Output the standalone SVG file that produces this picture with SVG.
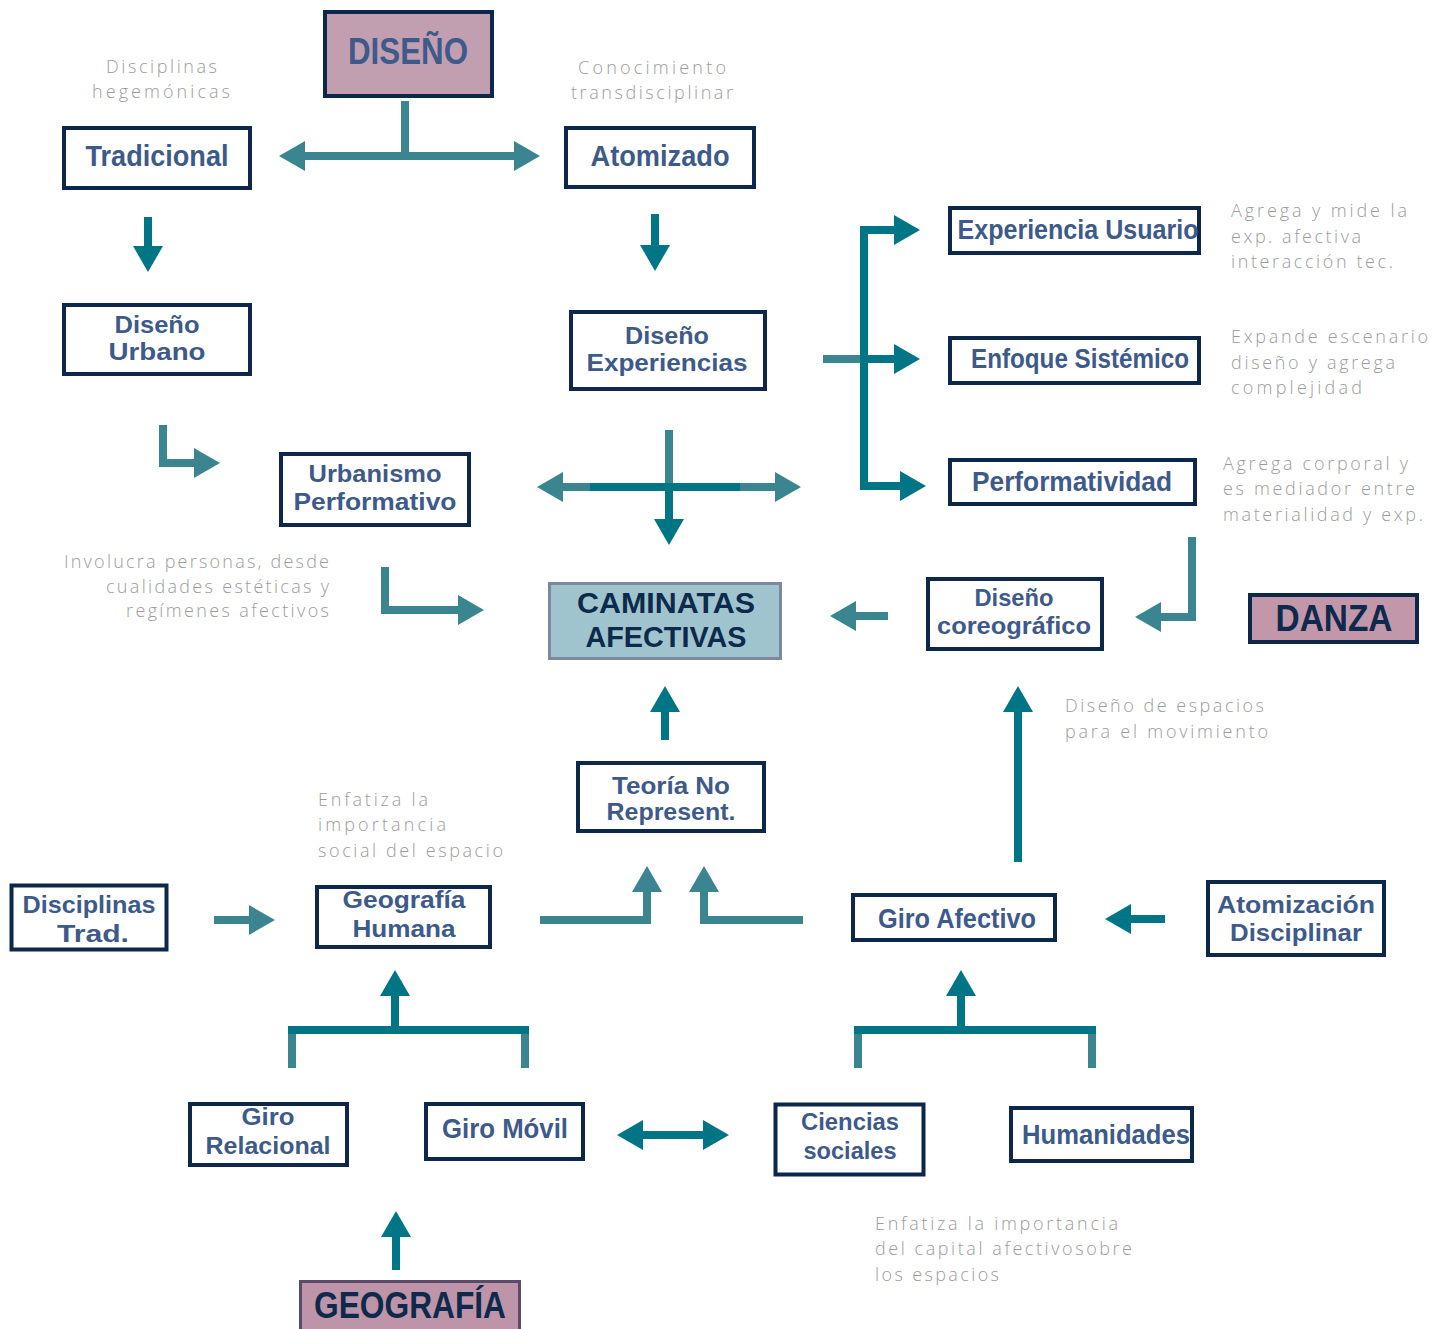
<svg xmlns="http://www.w3.org/2000/svg" width="1447" height="1329" viewBox="0 0 1447 1329">
<style>
.bx{fill:#fff;stroke:#0c2749;stroke-width:4}
.lb{font-family:"Liberation Sans",Arial,sans-serif;font-weight:bold;fill:#3d5a8a;font-size:24px;text-anchor:middle}
.tt{font-family:"Liberation Sans",Arial,sans-serif;font-weight:bold;fill:#0d2a4c;font-size:36px;text-anchor:middle}
.an{font-family:"Open Sans","Noto Sans",sans-serif;font-weight:300;fill:#9c9c9c;font-size:18px}
.d{fill:none;stroke:#007585;stroke-width:8;stroke-linejoin:miter}
.l{fill:none;stroke:#3a8590;stroke-width:8;stroke-linejoin:miter}
.md{marker-end:url(#hd)}
.ml{marker-end:url(#hl)}
</style>
<defs>
<marker id="hd" markerUnits="userSpaceOnUse" markerWidth="26" markerHeight="30" viewBox="0 0 26 30" refX="2" refY="15" orient="auto-start-reverse"><path d="M0,0 L26,15 L0,30 z" fill="#007585"/></marker>
<marker id="hl" markerUnits="userSpaceOnUse" markerWidth="26" markerHeight="30" viewBox="0 0 26 30" refX="2" refY="15" orient="auto-start-reverse"><path d="M0,0 L26,15 L0,30 z" fill="#3a8590"/></marker>
</defs>
<rect width="1447" height="1329" fill="#fff"/>

<g id="connectors">
<path class="l" d="M405,101 V160"/>
<path class="l ml" d="M409,156 H303"/>
<path class="l ml" d="M401,156 H516"/>
<path class="d md" d="M148,217 V248"/>
<path class="d md" d="M655,214 V247"/>
<path class="l ml" d="M163,425 V463 H196"/>
<path class="l" d="M669,430 V490"/>
<path class="d md" d="M669,484 V521"/>
<path class="l ml" d="M600,487 H561"/>
<path class="d" d="M590,487 H750"/>
<path class="l ml" d="M740,487 H777"/>
<path class="l" d="M823,359 H864"/>
<path class="d md" d="M896,230 H864 V486 H902"/>
<path class="d md" d="M860,230 H896"/>
<path class="d md" d="M860,359 H896"/>
<path class="l ml" d="M385,567 V610 H460"/>
<path class="l ml" d="M888,616 H854"/>
<path class="l ml" d="M1192,537 V617 H1159"/>
<path class="d md" d="M665,740 V710"/>
<path class="d md" d="M1018,862 V710"/>
<path class="l ml" d="M214,920 H251"/>
<path class="l ml" d="M540,920 H647 V890"/>
<path class="l ml" d="M803,920 H704 V890"/>
<path class="d md" d="M1165,919 H1129"/>
<path class="l" d="M292,1026 V1068 M525,1026 V1068 M858,1026 V1068 M1092,1026 V1068"/>
<path class="d" d="M288,1030 H529 M854,1030 H1096"/>
<path class="d md" d="M395,1030 V994"/>
<path class="d md" d="M961,1030 V994"/>
<path class="d md" d="M641,1135 H705" marker-start="url(#hd)"/>
<path class="d md" d="M396,1270 V1235"/>
</g>

<g id="n-diseno"><rect x="325" y="12" width="167" height="84" fill="#c29fb0" stroke="#0c2749" stroke-width="4"/><text class="lb" x="408" y="64" style="font-size:36px" textLength="120" lengthAdjust="spacingAndGlyphs">DISEÑO</text></g>
<g id="n-tradicional"><rect class="bx" x="64" y="128" width="186" height="60"/><text class="lb" x="157" y="166" style="font-size:29px" textLength="143" lengthAdjust="spacingAndGlyphs">Tradicional</text></g>
<g id="n-atomizado"><rect class="bx" x="566" y="128" width="188" height="59"/><text class="lb" x="660" y="166" style="font-size:29px" textLength="139" lengthAdjust="spacingAndGlyphs">Atomizado</text></g>
<g id="n-disenourbano"><rect class="bx" x="64" y="305" width="186" height="69"/><text class="lb" x="157" y="333" textLength="85" lengthAdjust="spacingAndGlyphs">Diseño</text><text class="lb" x="157" y="360" textLength="97" lengthAdjust="spacingAndGlyphs">Urbano</text></g>
<g id="n-disenoexp"><rect class="bx" x="571" y="312" width="194" height="77"/><text class="lb" x="667" y="344" textLength="84" lengthAdjust="spacingAndGlyphs">Diseño</text><text class="lb" x="667" y="371" textLength="161" lengthAdjust="spacingAndGlyphs">Experiencias</text></g>
<g id="n-urbanismo"><rect class="bx" x="281" y="454" width="188" height="71"/><text class="lb" x="375" y="482" textLength="133" lengthAdjust="spacingAndGlyphs">Urbanismo</text><text class="lb" x="375" y="510" textLength="163" lengthAdjust="spacingAndGlyphs">Performativo</text></g>
<g id="n-caminatas"><rect x="549.5" y="583.5" width="231" height="75" fill="#a0c4cd" stroke="#7b88a0" stroke-width="3"/><text class="tt" x="666" y="613" style="font-size:29px" textLength="178" lengthAdjust="spacingAndGlyphs">CAMINATAS</text><text class="tt" x="666" y="647" style="font-size:29px" textLength="161" lengthAdjust="spacingAndGlyphs">AFECTIVAS</text></g>
<g id="n-coreo"><rect class="bx" x="928" y="579" width="174" height="70"/><text class="lb" x="1014" y="606" textLength="79" lengthAdjust="spacingAndGlyphs">Diseño</text><text class="lb" x="1014" y="634" textLength="154" lengthAdjust="spacingAndGlyphs">coreográfico</text></g>
<g id="n-danza"><rect x="1250" y="595" width="167" height="47" fill="#c297aa" stroke="#0c2749" stroke-width="4"/><text class="tt" x="1334" y="631" textLength="117" lengthAdjust="spacingAndGlyphs">DANZA</text></g>
<g id="n-expusuario"><rect class="bx" x="950" y="208" width="249" height="45"/><text class="lb" x="1078" y="239" style="font-size:28px" textLength="241" lengthAdjust="spacingAndGlyphs">Experiencia Usuario</text></g>
<g id="n-enfoque"><rect class="bx" x="950" y="338" width="249" height="45"/><text class="lb" x="1080" y="368" style="font-size:28px" textLength="218" lengthAdjust="spacingAndGlyphs">Enfoque Sistémico</text></g>
<g id="n-performatividad"><rect class="bx" x="950" y="460" width="245" height="44"/><text class="lb" x="1072" y="491" style="font-size:28px" textLength="200" lengthAdjust="spacingAndGlyphs">Performatividad</text></g>
<g id="n-teoria"><rect class="bx" x="578" y="763" width="186" height="68"/><text class="lb" x="671" y="794" textLength="118" lengthAdjust="spacingAndGlyphs">Teoría No</text><text class="lb" x="671" y="820" textLength="129" lengthAdjust="spacingAndGlyphs">Represent.</text></g>
<g id="n-disctrad"><rect class="bx" x="11.5" y="885.5" width="155" height="64" stroke-width="5"/><text class="lb" x="89" y="913" textLength="133" lengthAdjust="spacingAndGlyphs">Disciplinas</text><text class="lb" x="93" y="942" textLength="72" lengthAdjust="spacingAndGlyphs">Trad.</text></g>
<g id="n-geohumana"><rect class="bx" x="317" y="887" width="173" height="60"/><text class="lb" x="404" y="908" textLength="123" lengthAdjust="spacingAndGlyphs">Geografía</text><text class="lb" x="404" y="937" textLength="103" lengthAdjust="spacingAndGlyphs">Humana</text></g>
<g id="n-giroafectivo"><rect class="bx" x="853" y="895" width="202" height="45"/><text class="lb" x="957" y="928" style="font-size:27px" textLength="158" lengthAdjust="spacingAndGlyphs">Giro Afectivo</text></g>
<g id="n-atomizacion"><rect class="bx" x="1208" y="882" width="176" height="73" stroke-width="6"/><text class="lb" x="1296" y="913" textLength="158" lengthAdjust="spacingAndGlyphs">Atomización</text><text class="lb" x="1296" y="941" textLength="132" lengthAdjust="spacingAndGlyphs">Disciplinar</text></g>
<g id="n-girorelacional"><rect class="bx" x="190" y="1104" width="157" height="61"/><text class="lb" x="268" y="1125" textLength="53" lengthAdjust="spacingAndGlyphs">Giro</text><text class="lb" x="268" y="1154" textLength="125" lengthAdjust="spacingAndGlyphs">Relacional</text></g>
<g id="n-giromovil"><rect class="bx" x="426" y="1104" width="157" height="55"/><text class="lb" x="505" y="1138" style="font-size:27px" textLength="126" lengthAdjust="spacingAndGlyphs">Giro Móvil</text></g>
<g id="n-ciencias"><rect class="bx" x="775.5" y="1104.5" width="148" height="70" stroke-width="5"/><text class="lb" x="850" y="1130" textLength="98" lengthAdjust="spacingAndGlyphs">Ciencias</text><text class="lb" x="850" y="1159" textLength="93" lengthAdjust="spacingAndGlyphs">sociales</text></g>
<g id="n-humanidades"><rect class="bx" x="1011" y="1108" width="181" height="53"/><text class="lb" x="1106" y="1144" style="font-size:27px" textLength="168" lengthAdjust="spacingAndGlyphs">Humanidades</text></g>
<g id="n-geografia"><rect x="300.5" y="1281.5" width="219" height="50" fill="#be94a8" stroke="#5c4a6b" stroke-width="3"/><text class="tt" x="410" y="1318" textLength="192" lengthAdjust="spacingAndGlyphs">GEOGRAFÍA</text></g>

<g id="annotations">
<text class="an" x="106" y="73" textLength="111" lengthAdjust="spacing">Disciplinas</text>
<text class="an" x="92" y="98" textLength="138" lengthAdjust="spacing">hegemónicas</text>
<text class="an" x="578" y="74" textLength="148" lengthAdjust="spacing">Conocimiento</text>
<text class="an" x="571" y="99" textLength="162" lengthAdjust="spacing">transdisciplinar</text>
<text class="an" x="1231" y="217" textLength="176" lengthAdjust="spacing">Agrega y mide la</text>
<text class="an" x="1231" y="243" textLength="130" lengthAdjust="spacing">exp. afectiva</text>
<text class="an" x="1231" y="268" textLength="162" lengthAdjust="spacing">interacción tec.</text>
<text class="an" x="1231" y="343" textLength="197" lengthAdjust="spacing">Expande escenario</text>
<text class="an" x="1231" y="369" textLength="164" lengthAdjust="spacing">diseño y agrega</text>
<text class="an" x="1231" y="394" textLength="131" lengthAdjust="spacing">complejidad</text>
<text class="an" x="1223" y="470" textLength="185" lengthAdjust="spacing">Agrega corporal y</text>
<text class="an" x="1223" y="495" textLength="192" lengthAdjust="spacing">es mediador entre</text>
<text class="an" x="1223" y="521" textLength="200" lengthAdjust="spacing">materialidad y exp.</text>
<text class="an" x="329" y="568" text-anchor="end" textLength="265" lengthAdjust="spacing">Involucra personas, desde</text>
<text class="an" x="329" y="593" text-anchor="end" textLength="223" lengthAdjust="spacing">cualidades estéticas y</text>
<text class="an" x="329" y="617" text-anchor="end" textLength="203" lengthAdjust="spacing">regímenes afectivos</text>
<text class="an" x="1065" y="712" textLength="199" lengthAdjust="spacing">Diseño de espacios</text>
<text class="an" x="1065" y="738" textLength="203" lengthAdjust="spacing">para el movimiento</text>
<text class="an" x="318" y="806" textLength="110" lengthAdjust="spacing">Enfatiza la</text>
<text class="an" x="318" y="831" textLength="128" lengthAdjust="spacing">importancia</text>
<text class="an" x="318" y="857" textLength="185" lengthAdjust="spacing">social del espacio</text>
<text class="an" x="875" y="1230" textLength="243" lengthAdjust="spacing">Enfatiza la importancia</text>
<text class="an" x="875" y="1255" textLength="257" lengthAdjust="spacing">del capital afectivosobre</text>
<text class="an" x="875" y="1281" textLength="124" lengthAdjust="spacing">los espacios</text>
</g>
</svg>
